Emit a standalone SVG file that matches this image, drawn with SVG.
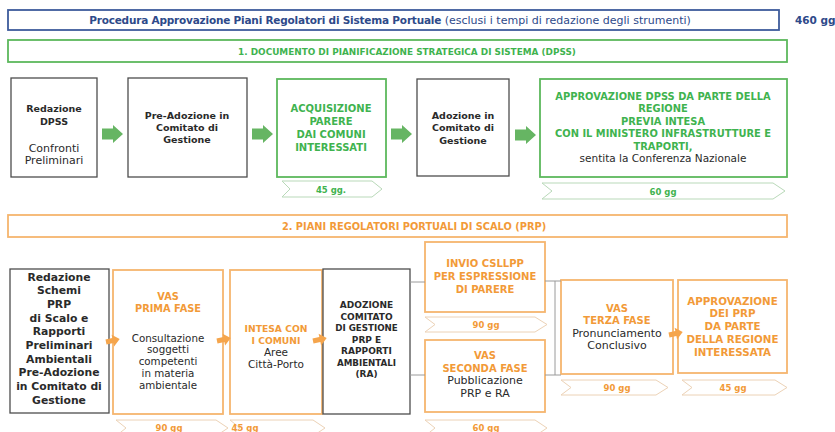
<svg xmlns="http://www.w3.org/2000/svg" width="835" height="432" viewBox="0 0 835 432">
<defs>
<style>
text{font-family:"DejaVu Sans","Liberation Sans",sans-serif;text-anchor:middle}
.b{font-weight:bold}
.dk{fill:#2a2a2a}
.gt{fill:#3fb34f;font-weight:bold}
.ot{fill:#f29a38;font-weight:bold}
.boxd{fill:#fff;stroke:#4d4d4d;stroke-width:1.3}
.boxg{fill:#fff;stroke:#5cb85c;stroke-width:1.8}
.boxo{fill:#fff;stroke:#f6b56e;stroke-width:1.8}
.chg{fill:#fff;stroke:#b9d9b9;stroke-width:1}
.cho{fill:#fff;stroke:#ecd2b6;stroke-width:1}
.ga{fill:#66b563}
.oa{fill:#f5a54c}
.ln{fill:none;stroke:#9a9a9a;stroke-width:1}
</style>
</defs>

<g id="title">
<rect x="8" y="10" width="771" height="20" fill="#fff" stroke="#3d5b9c" stroke-width="1.8"/>
<text x="390" y="24" font-size="10.5" fill="#2e4a8a"><tspan class="b" letter-spacing="-0.2">Procedura Approvazione Piani Regolatori di Sistema Portuale</tspan><tspan font-size="11"> (esclusi i tempi di redazione degli strumenti)</tspan></text>
<text x="795" y="24" font-size="10.5" class="b" fill="#2e4a8a" style="text-anchor:start">460 gg</text>
</g>

<g id="header-dpss">
<rect x="8" y="40" width="779" height="22" fill="#fff" stroke="#5cb85c" stroke-width="1.8"/>
<text x="407" y="54.5" font-size="8.9" class="gt">1. DOCUMENTO DI PIANIFICAZIONE STRATEGICA DI SISTEMA (DPSS)</text>
</g>

<g id="header-prp">
<rect x="8" y="215" width="779" height="22" fill="#fff" stroke="#f6b56e" stroke-width="1.8"/>
<text x="414" y="229.5" font-size="9.8" class="ot">2. PIANI REGOLATORI PORTUALI DI SCALO (PRP)</text>
</g>

<g id="n-redazione-dpss">
<rect class="boxd" x="11" y="78" width="86" height="99"/>
<text x="54" y="111.5" font-size="9.5" class="b dk">Redazione</text>
<text x="54" y="125" font-size="9.5" class="b dk">DPSS</text>
<text x="54" y="151.5" font-size="11" class="dk">Confronti</text>
<text x="54" y="164" font-size="11" class="dk">Preliminari</text>
</g>

<g id="n-preadozione">
<rect class="boxd" x="128" y="78" width="119" height="99"/>
<text x="187" y="118.5" font-size="9.5" class="b dk">Pre-Adozione in</text>
<text x="187" y="130.5" font-size="9.5" class="b dk">Comitato di</text>
<text x="187" y="142.5" font-size="9.5" class="b dk">Gestione</text>
</g>

<g id="n-acquisizione">
<rect class="boxg" x="277" y="79" width="109" height="98"/>
<text x="331" y="111.5" font-size="10" class="gt">ACQUISIZIONE</text>
<text x="331" y="124.5" font-size="10" class="gt">PARERE</text>
<text x="331" y="137.5" font-size="10" class="gt">DAI COMUNI</text>
<text x="331" y="150.5" font-size="10" class="gt">INTERESSATI</text>
</g>
<g id="d-45">
<path class="chg" d="M282 181H372L382 189L372 197H282L290 189Z"/>
<text x="331" y="192.5" font-size="8.5" class="gt">45 gg.</text>
</g>

<g id="n-adozione">
<rect class="boxd" x="417" y="79" width="92" height="97"/>
<text x="463" y="118.5" font-size="9.5" class="b dk">Adozione in</text>
<text x="463" y="131" font-size="9.5" class="b dk">Comitato di</text>
<text x="463" y="143.5" font-size="9.5" class="b dk">Gestione</text>
</g>

<g id="n-approvazione-dpss">
<rect class="boxg" x="540" y="79" width="247" height="98"/>
<text x="663" y="99.5" font-size="9.9" class="gt">APPROVAZIONE DPSS DA PARTE DELLA</text>
<text x="663" y="112" font-size="9.9" class="gt">REGIONE</text>
<text x="663" y="124.5" font-size="9.9" class="gt">PREVIA INTESA</text>
<text x="663" y="137" font-size="9.9" class="gt">CON IL MINISTERO INFRASTRUTTURE E</text>
<text x="663" y="149.5" font-size="9.9" class="gt">TRAPORTI,</text>
<text x="663" y="162" font-size="10.5" class="dk">sentita la Conferenza Nazionale</text>
</g>
<g id="d-60">
<path class="chg" d="M542 183H773L785 191L773 199H542L552 191Z"/>
<text x="663" y="194.5" font-size="8.5" class="gt">60 gg</text>
</g>

<g id="n-redazione-prp">
<rect class="boxd" x="10" y="269" width="99" height="144"/>
<text x="59" y="280.5" font-size="10.8" class="b dk">Redazione</text>
<text x="59" y="294.2" font-size="10.8" class="b dk">Schemi</text>
<text x="59" y="307.8" font-size="10.8" class="b dk">PRP</text>
<text x="59" y="321.5" font-size="10.8" class="b dk">di Scalo e</text>
<text x="59" y="335.2" font-size="10.8" class="b dk">Rapporti</text>
<text x="59" y="348.8" font-size="10.8" class="b dk">Preliminari</text>
<text x="59" y="362.5" font-size="10.8" class="b dk">Ambientali</text>
<text x="59" y="376.2" font-size="10.8" class="b dk">Pre-Adozione</text>
<text x="59" y="389.8" font-size="10.8" class="b dk">in Comitato di</text>
<text x="59" y="403.5" font-size="10.8" class="b dk">Gestione</text>
</g>

<g id="n-vas1">
<rect class="boxo" x="113" y="270" width="110" height="144"/>
<text x="168" y="299.5" font-size="9.8" class="ot">VAS</text>
<text x="168" y="311.5" font-size="9.8" class="ot">PRIMA FASE</text>
<text x="168" y="341.5" font-size="10.3" class="dk">Consultazione</text>
<text x="168" y="353.3" font-size="10.3" class="dk">soggetti</text>
<text x="168" y="365.1" font-size="10.3" class="dk">competenti</text>
<text x="168" y="376.9" font-size="10.3" class="dk">in materia</text>
<text x="168" y="388.7" font-size="10.3" class="dk">ambientale</text>
</g>
<g id="d-90a">
<path class="cho" d="M116 420H216L228 428L216 436H116L126 428Z"/>
<text x="169" y="430.5" font-size="8.5" class="ot">90 gg</text>
</g>

<g id="n-intesa">
<rect class="boxo" x="230" y="270" width="92" height="144"/>
<text x="276" y="332" font-size="9.2" class="ot">INTESA CON</text>
<text x="276" y="344" font-size="9.2" class="ot">I COMUNI</text>
<text x="276" y="356" font-size="10.5" class="dk">Aree</text>
<text x="276" y="368" font-size="10.5" class="dk">Città-Porto</text>
</g>
<g id="d-45a">
<path class="cho" d="M230 420H313L325 428L313 436H230L240 428Z"/>
<text x="245" y="430.5" font-size="8.5" class="ot">45 gg</text>
</g>

<g id="n-adozione-prp">
<rect class="boxd" x="323" y="269" width="87" height="145"/>
<text x="366.5" y="308.2" font-size="9" class="b dk">ADOZIONE</text>
<text x="366.5" y="319.7" font-size="9" class="b dk">COMITATO</text>
<text x="366.5" y="331.2" font-size="8.7" class="b dk">DI GESTIONE</text>
<text x="366.5" y="342.7" font-size="9" class="b dk">PRP E</text>
<text x="366.5" y="354.2" font-size="9" class="b dk">RAPPORTI</text>
<text x="366.5" y="365.7" font-size="8.7" class="b dk">AMBIENTALI</text>
<text x="366.5" y="377.2" font-size="9" class="b dk">(RA)</text>
</g>

<g id="n-invio">
<rect class="boxo" x="425" y="242" width="120" height="70"/>
<text x="485" y="266.5" font-size="10" class="ot">INVIO CSLLPP</text>
<text x="485" y="279.5" font-size="10" class="ot">PER ESPRESSIONE</text>
<text x="485" y="292.5" font-size="10" class="ot">DI PARERE</text>
</g>
<g id="d-90b">
<path class="cho" d="M425 317H535L547 324.5L535 332H425L435 324.5Z"/>
<text x="486" y="328" font-size="8.5" class="ot">90 gg</text>
</g>

<g id="n-vas2">
<rect class="boxo" x="425" y="340" width="120" height="72"/>
<text x="485" y="358.5" font-size="10" class="ot">VAS</text>
<text x="485" y="371.5" font-size="10" class="ot">SECONDA FASE</text>
<text x="485" y="384" font-size="11" class="dk">Pubblicazione</text>
<text x="485" y="397" font-size="11" class="dk">PRP e RA</text>
</g>
<g id="d-60a">
<path class="cho" d="M425 420H535L547 428L535 436H425L435 428Z"/>
<text x="486" y="430.5" font-size="8.5" class="ot">60 gg</text>
</g>

<g id="n-vas3">
<rect class="boxo" x="561" y="280" width="112" height="94"/>
<text x="617" y="311.5" font-size="10" class="ot">VAS</text>
<text x="617" y="324" font-size="10" class="ot">TERZA FASE</text>
<text x="617" y="336.5" font-size="11" class="dk">Pronunciamento</text>
<text x="617" y="349" font-size="11" class="dk">Conclusivo</text>
</g>
<g id="d-90c">
<path class="cho" d="M561 380H656L668 387.5L656 395H561L571 387.5Z"/>
<text x="617" y="391" font-size="8.5" class="ot">90 gg</text>
</g>

<g id="n-approvazione-prp">
<rect class="boxo" x="678" y="280" width="109" height="93"/>
<text x="732.5" y="304.5" font-size="10.3" class="ot">APPROVAZIONE</text>
<text x="732.5" y="317" font-size="10.3" class="ot">DEI PRP</text>
<text x="732.5" y="330" font-size="10.3" class="ot">DA PARTE</text>
<text x="732.5" y="343" font-size="10.3" class="ot">DELLA REGIONE</text>
<text x="732.5" y="356" font-size="10.3" class="ot">INTERESSATA</text>
</g>
<g id="d-45b">
<path class="cho" d="M682 380H775L787 387.5L775 395H682L692 387.5Z"/>
<text x="733" y="391" font-size="8.5" class="ot">45 gg</text>
</g>

<g id="connectors">
<polygon class="ga" points="102,128.5 113,128.5 113,125 123,134 113,143 113,139.5 102,139.5"/>
<polygon class="ga" points="252,128.5 263,128.5 263,125 273,134 263,143 263,139.5 252,139.5"/>
<polygon class="ga" points="391,128.5 402,128.5 402,125 412,134 402,143 402,139.5 391,139.5"/>
<polygon class="ga" points="515,129.5 526,129.5 526,126 536,135 526,144 526,140.5 515,140.5"/>
<path class="ln" d="M410 282H425M410 375H425M545 281H561M545 375H561M555 281V375"/>
<g transform="translate(106,342) rotate(-12)"><polygon class="oa" points="0,-2.5 7,-2.5 7,-6 14,0 7,6 7,2.5 0,2.5"/></g>
<g transform="translate(217,341) rotate(-12)"><polygon class="oa" points="0,-2.5 7,-2.5 7,-6 14,0 7,6 7,2.5 0,2.5"/></g>
<g transform="translate(313,341) rotate(-12)"><polygon class="oa" points="0,-2.5 7,-2.5 7,-6 14,0 7,6 7,2.5 0,2.5"/></g>
<g transform="translate(669,335) rotate(-12)"><polygon class="oa" points="0,-2.5 7,-2.5 7,-6 14,0 7,6 7,2.5 0,2.5"/></g>
</g>
</svg>
